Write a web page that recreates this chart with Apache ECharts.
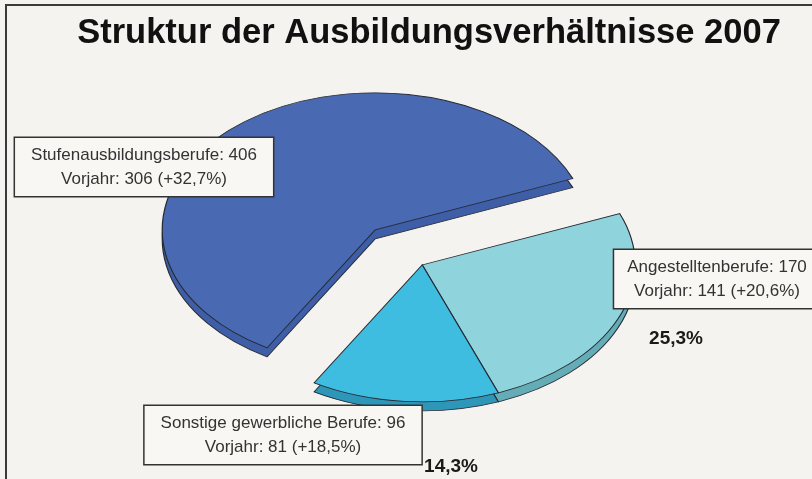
<!DOCTYPE html>
<html>
<head>
<meta charset="utf-8">
<script src="https://cdn.jsdelivr.net/npm/echarts@6/dist/echarts.min.js"></script>
<style>
  html, body { margin: 0; padding: 0; background: #f5f3ef; }
  #main { width: 812px; height: 479px; }
</style>
</head>
<body>
<div id="main"></div>
<script>
// data
const categories = ["Angestelltenberufe", "Sonstige gewerbliche Berufe", "Stufenausbildungsberufe"];
const values2007 = [170, 96, 406];
const valuesVorjahr = [141, 81, 306];
const showPercent = [true, true, false];
const exploded = [false, false, true];

const total = values2007.reduce((a, b) => a + b, 0);
const fmt = (x) => x.toFixed(1).replace(".", ",");

const topColors = ["#8fd4dc", "#3fbde0", "#4a69b3"];
const sideColors = ["#64adb6", "#2e97b9", "#3f5ea8"];

// layout (pixels)
const startAngle = 22;   // Grad, gegen Uhrzeigersinn von 3 Uhr
const R = 213, K = 0.643, DEPTH = 9, EXPLODE = 72;
const boxPos = [[717, 279], [283, 435], [144, 167]];
const boxPad = [[5, 13], [5, 16], [5, 16]];
const pctPos = [[676, 339], [451, 467], null];

function renderSlice(params, api) {
  const i = params.dataIndex;
  const cx = api.getWidth() * 0.52;
  const cy = api.getHeight() * 0.553;
  let cum = 0;
  for (let j = 0; j < i; j++) cum += values2007[j];
  const a0 = (-startAngle + (cum / total) * 360) * Math.PI / 180;
  const a1 = a0 + (api.value(0) / total) * 2 * Math.PI;
  let ox = cx, oy = cy;
  if (exploded[i]) {
    const mid = (a0 + a1) / 2;
    ox += EXPLODE * Math.cos(mid);
    oy += EXPLODE * Math.sin(mid) * K;
  }
  const sector = (dy, fill, z2) => ({
    type: "sector",
    x: ox, y: oy + dy, scaleY: K,
    shape: { cx: 0, cy: 0, r: R, r0: 0, startAngle: a0, endAngle: a1, clockwise: true },
    style: { fill: fill, stroke: "#262a33", lineWidth: 1.2, strokeNoScale: true },
    z2: z2
  });
  const children = [sector(DEPTH, sideColors[i], 1), sector(0, topColors[i], 5)];

  const change = (values2007[i] / valuesVorjahr[i] - 1) * 100;
  children.push({
    type: "text",
    x: boxPos[i][0], y: boxPos[i][1],
    z2: 20,
    style: {
      text: categories[i] + ": " + values2007[i] + "\nVorjahr: " + valuesVorjahr[i] + " (+" + fmt(change) + "%)",
      align: "center", verticalAlign: "middle",
      font: "17px 'Liberation Sans', Arial, sans-serif",
      lineHeight: 24,
      fill: "#333",
      backgroundColor: "#f8f7f4",
      borderColor: "#333",
      borderWidth: 1.5,
      padding: boxPad[i]
    }
  });
  if (showPercent[i]) {
    children.push({
      type: "text",
      x: pctPos[i][0], y: pctPos[i][1],
      z2: 20,
      style: {
        text: fmt((values2007[i] / total) * 100) + "%",
        align: "center", verticalAlign: "middle",
        font: "bold 19px 'Liberation Sans', Arial, sans-serif",
        fill: "#1a1a1a"
      }
    });
  }
  return { type: "group", children: children };
}

const myChart = echarts.init(document.getElementById("main"));
const option = {
  backgroundColor: "#f5f3ef",
  animation: false,
  title: {
    text: "Struktur der Ausbildungsverhältnisse 2007",
    left: 424,
    textAlign: "center",
    top: 11,
    textStyle: {
      fontFamily: "'Liberation Sans', Arial, sans-serif",
      fontWeight: "bold",
      fontSize: 34.5,
      color: "#111"
    }
  },
  graphic: [
    {
      type: "polyline",
      shape: { points: [[6, 479], [6, 5], [812, 5]] },
      style: { stroke: "#3a3a3a", lineWidth: 2, fill: null }
    }
  ],
  series: [
    {
      type: "custom",
      coordinateSystem: "none",
      renderItem: renderSlice,
      data: values2007.map((v, i) => ({ value: v, name: categories[i] }))
    }
  ]
};
myChart.setOption(option);
</script>
</body>
</html>
